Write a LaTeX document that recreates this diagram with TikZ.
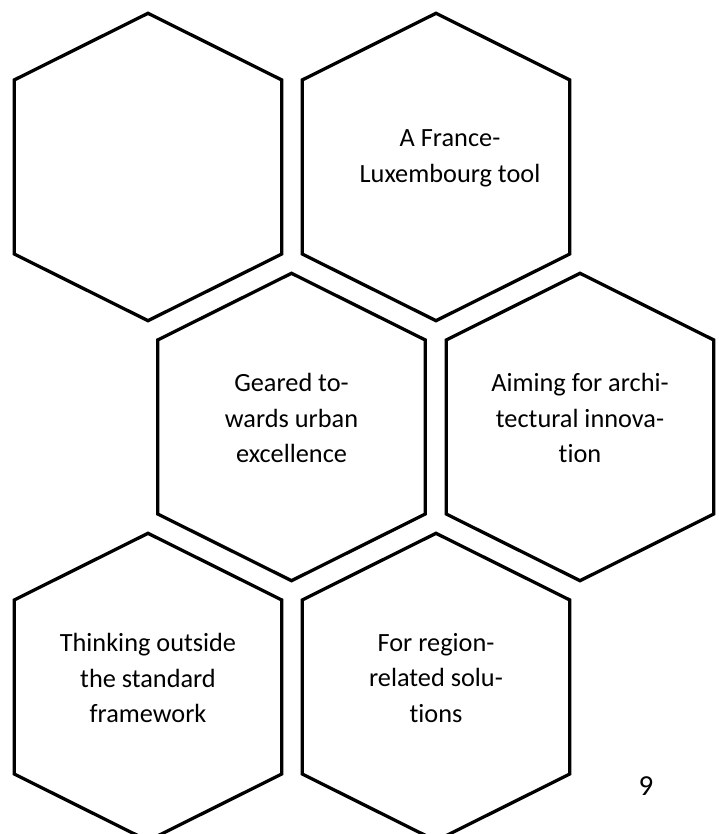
\documentclass[tikz,border=0pt]{standalone}
\usepackage{fontspec}
\setmainfont{Carlito}[Ligatures=NoCommon]
\usetikzlibrary{calc}
\tikzset{
  cell/.style={draw=black, line width=3.3pt},
  lab/.style={font=\fontsize{26.3}{35.7}\selectfont, align=center, inner sep=0pt},
  pagenum/.style={font=\fontsize{29}{34}\selectfont, inner sep=0pt}
}
\begin{document}
\begin{tikzpicture}[x=1pt,y=1pt]
  \useasboundingbox (0,0) rectangle (718,834);
  % cell centres, three rows
  \coordinate (c1) at (148,667);
  \coordinate (c2) at (436,667);
  \coordinate (c3) at (291.5,407);
  \coordinate (c4) at (580,407);
  \coordinate (c5) at (148,147);
  \coordinate (c6) at (436,147);

  % hexagon outlines
  \foreach \c in {c1,c2,c3,c4,c5,c6}
    \draw[cell] ($(\c)+(0,153.7)$) -- ++(133.8,-66.7) -- ++(0,-174)
      -- ++(-133.8,-66.7) -- ++(-133.8,66.7) -- ++(0,174) -- cycle;

  \node[lab] (t2) at ($(c2)+(14,9)$) {A France-\\Luxembourg tool};
  \node[lab] (t3) at ($(c3)+(0,9)$) {Geared to-\\wards urban\\excellence};
  \node[lab] (t4) at ($(c4)+(0,9)$) {Aiming for archi-\\tectural innova-\\tion};
  \node[lab] (t5) at ($(c5)+(0,9)$) {Thinking outside\\the standard\\framework};
  \node[lab] (t6) at ($(c6)+(0,9)$) {For region-\\related solu-\\tions};

  \node[pagenum, anchor=base] (pg) at (646,38.3) {9};
\end{tikzpicture}
\end{document}
